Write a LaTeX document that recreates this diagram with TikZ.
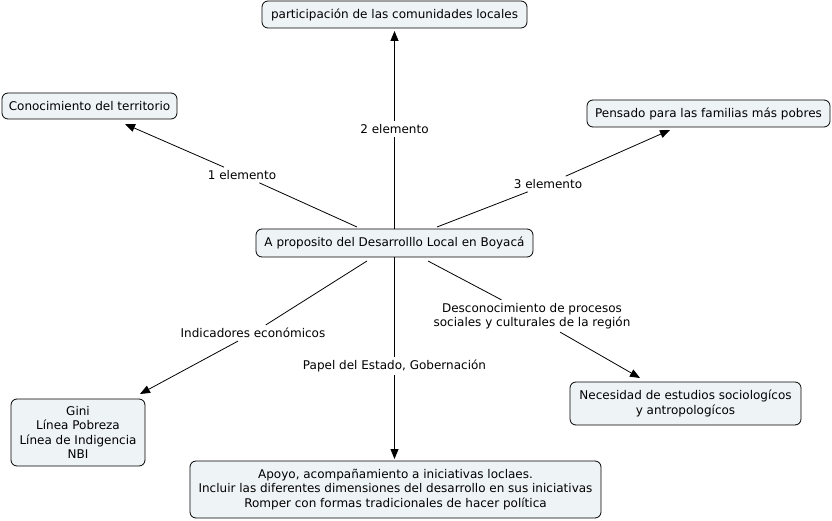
\documentclass[tikz,border=0pt]{standalone}
\usepackage{fontspec}
\setmainfont{DejaVu Sans}
\usetikzlibrary{arrows.meta}
\definecolor{cbox}{RGB}{238,243,245}
\tikzset{
  concept/.style={draw=black, fill=cbox, rounded corners=6pt, line width=0.8pt, align=center, inner sep=2pt, font=\fontsize{12}{14.3}\selectfont},
  linklabel/.style={align=center, inner sep=3pt, font=\fontsize{12}{14.3}\selectfont},
  conn/.style={line width=0.8pt},
  arr/.style={line width=0.8pt, -{Triangle[length=10pt,width=8pt]}}
}
\begin{document}
\begin{tikzpicture}[x=1pt,y=-1pt]
\useasboundingbox (0,0) rectangle (832,521);
\node[concept, minimum width=265pt, minimum height=27pt] (top) at (394.5,14.5) {participación de las comunidades locales};
\node[concept, minimum width=175pt, minimum height=26pt] (left) at (89.5,106) {Conocimiento del territorio};
\node[concept, minimum width=243pt, minimum height=27pt] (right) at (708.5,113.5) {Pensado para las familias más pobres};
\node[concept, minimum width=277pt, minimum height=28pt] (c) at (394.5,243) {A proposito del Desarrolllo Local en Boyacá};
\node[concept, minimum width=134pt, minimum height=67pt] (gini) at (78,432.5) {Gini\\Línea Pobreza\\Línea de Indigencia\\NBI};
\node[concept, minimum width=231pt, minimum height=43pt] (nec) at (685.5,403.5) {Necesidad de estudios sociologícos\\y antropologícos};
\node[concept, minimum width=411pt, minimum height=57pt] (apoyo) at (395.5,489.5) {Apoyo, acompañamiento a iniciativas loclaes.\\Incluir las diferentes dimensiones del desarrollo en sus iniciativas\\Romper con formas tradicionales de hacer política};

\node[linklabel] (l1) at (242,175) {1 elemento};
\node[linklabel] (l2) at (394.5,129) {2 elemento};
\node[linklabel] (l3) at (548,184) {3 elemento};
\node[linklabel] (l4) at (253,333) {Indicadores económicos};
\node[linklabel] (l5) at (394.5,366) {Papel del Estado, Gobernación};
\node[linklabel] (l6) at (532,316) {Desconocimiento de procesos\\sociales y culturales de la región};

\coordinate (c1) at (357,227);
\coordinate (c3) at (437,227);
\coordinate (c4) at (367,261);
\coordinate (c6) at (428,261);
\coordinate (t1) at (125,124);
\coordinate (t2) at (394.5,31);
\coordinate (t3) at (670,130);
\coordinate (t4) at (140,394);
\coordinate (t5) at (394.5,459);
\coordinate (t6) at (640,378);

\draw[conn] (c1) -- (l1);
\draw[arr] (l1) -- (t1);
\draw[conn] (c) -- (l2);
\draw[arr] (l2) -- (t2);
\draw[conn] (c3) -- (l3);
\draw[arr] (l3) -- (t3);
\draw[conn] (c4) -- (l4);
\draw[arr] (l4) -- (t4);
\draw[conn] (c) -- (l5);
\draw[arr] (l5) -- (t5);
\draw[conn] (c6) -- (l6);
\draw[arr] (l6) -- (t6);
\end{tikzpicture}
\end{document}
